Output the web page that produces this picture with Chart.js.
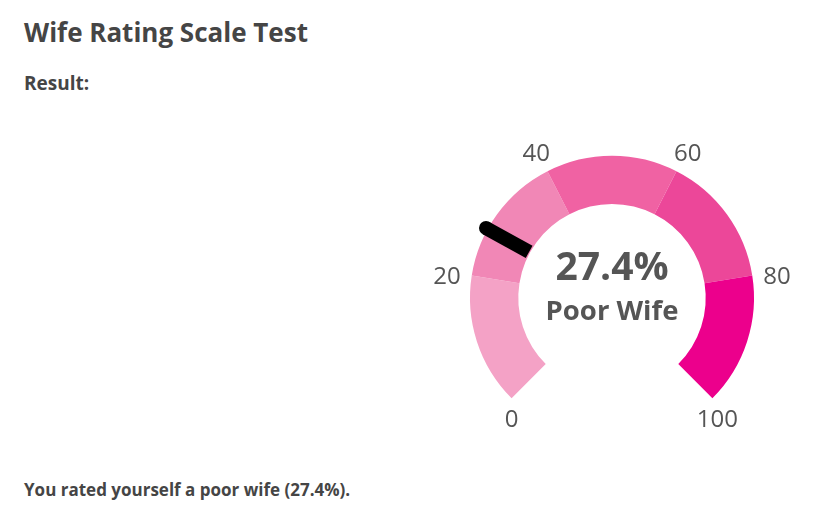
<!DOCTYPE html>
<html>
<head>
<meta charset="utf-8">
<script src="https://cdn.jsdelivr.net/npm/chart.js@4/dist/chart.umd.min.js"></script>
<style>
  html, body { margin: 0; padding: 0; background: #fff; }
  body { width: 820px; height: 514px; position: relative; overflow: hidden; font-family: "Open Sans", sans-serif; color: #454545; }
  .txt { position: absolute; white-space: nowrap; font-weight: 700; line-height: 1.362; }
  #gauge { position: absolute; left: 412px; top: 107px; width: 400px; height: 340px; }
  .center { position: absolute; width: 820px; text-align: center; font-weight: 700; line-height: 1.362; color: #555; }
</style>
</head>
<body>
<div class="txt" style="left:24px; top:15px; font-size:26px;">Wife Rating Scale Test</div>
<div class="txt" style="left:24px; top:71px; font-size:19px;">Result:</div>

<div id="gauge"><canvas id="chart"></canvas></div>

<div class="center" id="scoreText" style="left:202px; top:238px; font-size:39px;"></div>
<div class="center" id="verdictText" style="left:202px; top:291px; font-size:27.5px;"></div>

<div class="txt" style="left:24px; top:478px; font-size:17px;" id="footer"></div>

<script>
// gauge data
const tickValues = [0, 20, 40, 60, 80, 100];
const tickLabels = ["0", "20", "40", "60", "80", "100"];
const segmentColors = ["#f4a2c6", "#f187b6", "#f062a3", "#ec4799", "#ec008c"];
const score = 27.4;
const verdict = "Poor Wife";

// slice sizes between the tick values
const segmentSizes = tickValues.slice(1).map((v, i) => v - tickValues[i]);

document.getElementById("scoreText").textContent = score + "%";
document.getElementById("verdictText").textContent = verdict;
document.getElementById("footer").textContent = "You rated yourself a " + verdict.toLowerCase() + " (" + score + "%).";

// needle + tick labels, placed from the arc elements
const gaugeDecor = {
  id: "gaugeDecor",
  afterDatasetsDraw(chart) {
    const arcs = chart.getDatasetMeta(0).data;
    if (!arcs.length) return;
    const ctx = chart.ctx;
    const { x, y, outerRadius, innerRadius } = arcs[0].getProps(["x", "y", "outerRadius", "innerRadius"], true);

    // tick labels
    ctx.save();
    ctx.font = "24px 'Open Sans'";
    ctx.fillStyle = "#555";
    ctx.textAlign = "center";
    ctx.textBaseline = "middle";
    tickLabels.forEach((lbl, i) => {
      const last = i === arcs.length;
      const arc = arcs[last ? i - 1 : i];
      const a = last ? arc.endAngle : arc.startAngle;
      let lx, ly;
      if (i === 0 || last) {
        // ends of the arc: label sits under the tip
        lx = x + Math.cos(a) * outerRadius + (last ? 5 : 0);
        ly = y + Math.sin(a) * outerRadius + 22;
      } else {
        lx = x + Math.cos(a) * (outerRadius + 25);
        ly = y + Math.sin(a) * (outerRadius + 25) + 5;
      }
      ctx.fillText(lbl, lx, ly);
    });
    ctx.restore();

    // needle
    let idx = 0;
    while (idx < segmentSizes.length - 1 && score > tickValues[idx + 1]) idx++;
    const arc = arcs[idx];
    const frac = (score - tickValues[idx]) / (tickValues[idx + 1] - tickValues[idx]);
    const ang = arc.startAngle + frac * (arc.endAngle - arc.startAngle);
    const r0 = innerRadius + 1, r1 = outerRadius + 2;
    ctx.save();
    ctx.strokeStyle = "#000";
    ctx.lineWidth = 14;
    ctx.lineCap = "butt";
    ctx.beginPath();
    ctx.moveTo(x + Math.cos(ang) * r0, y + Math.sin(ang) * r0);
    ctx.lineTo(x + Math.cos(ang) * r1, y + Math.sin(ang) * r1);
    ctx.stroke();
    ctx.beginPath();
    ctx.fillStyle = "#000";
    ctx.arc(x + Math.cos(ang) * r1, y + Math.sin(ang) * r1, 7, 0, Math.PI * 2);
    ctx.fill();
    ctx.restore();
  }
};

new Chart(document.getElementById("chart"), {
  type: "doughnut",
  data: {
    labels: tickLabels.slice(0, -1),
    datasets: [{
      data: segmentSizes,
      backgroundColor: segmentColors,
      borderWidth: 0,
      hoverOffset: 0
    }]
  },
  options: {
    responsive: true,
    maintainAspectRatio: false,
    animation: false,
    rotation: -135,
    circumference: 270,
    cutout: "66%",
    radius: 142,
    layout: { padding: 0 },
    plugins: {
      legend: { display: false },
      tooltip: { enabled: false }
    }
  },
  plugins: [gaugeDecor]
});
</script>
</body>
</html>
